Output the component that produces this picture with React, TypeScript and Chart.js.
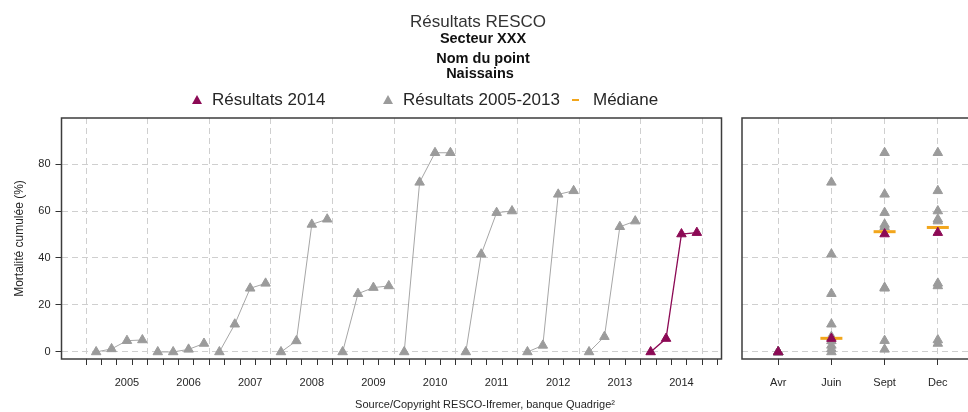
import React, { useEffect, useRef } from 'react';
import { Chart, registerables } from 'chart.js';

Chart.register(...registerables);

// ---------- data ----------
const years = ['2005', '2006', '2007', '2008', '2009', '2010', '2011', '2012', '2013', '2014'];
const campaigns = ['Avr', 'Juin', 'Sept', 'Dec'];
const mort2005 = [0, 1.3, 4.8, 5.1];
const mort2006 = [0, 0, 1.1, 3.6];
const mort2007 = [0, 11.8, 27.1, 29.2];
const mort2008 = [0, 4.7, 54.3, 56.5];
const mort2009 = [0, 24.8, 27.4, 28.1];
const mort2010 = [0, 72.2, 84.8, 84.8];
const mort2011 = [0, 41.6, 59.3, 60];
const mort2012 = [0, 2.8, 67.1, 68.6];
const mort2013 = [0, 6.5, 53.3, 55.7];
const mort2014 = [0, 5.7, 50.2, 50.8];
const medians: (number | null)[] = [null, 5.8, 51.2, 53];
const yTicks = [0, 20, 40, 60, 80];

const allYears = [mort2005, mort2006, mort2007, mort2008, mort2009, mort2010, mort2011, mort2012, mort2013, mort2014];
const histYears = allYears.slice(0, 9);

// ---------- style ----------
const FONT = '"Liberation Sans", Arial, sans-serif';
const GRAY = '#9b9b9b';
const LINE_GRAY = '#a6a6a6';
const MAGENTA = '#8c0a55';
const ORANGE = '#f2a61c';
const GRID = '#cfcfcf';
const AXIS = '#333333';
const TXT = '#262626';

const framePlugin = {
  id: 'frame',
  afterDraw(chart: any) {
    const { ctx, chartArea: a } = chart;
    ctx.save();
    ctx.strokeStyle = '#3c3c3c';
    ctx.lineWidth = 1.5;
    ctx.strokeRect(a.left, a.top, a.right - a.left, a.bottom - a.top);
    ctx.restore();
  },
};

const Y_MIN = -3;
const Y_MAX = 99.6;

function yScale(showLabels: boolean) {
  return {
    type: 'linear',
    min: Y_MIN,
    max: Y_MAX,
    afterBuildTicks: (s: any) => {
      s.ticks = yTicks.map((v) => ({ value: v }));
    },
    afterFit: (s: any) => {
      s.width = showLabels ? 61.5 : 0;
    },
    ticks: {
      display: showLabels,
      padding: 5,
      color: TXT,
      font: { family: FONT, size: 11 },
      callback: (v: any) => String(v),
    },
    grid: {
      color: GRID,
      lineWidth: 1,
      drawTicks: showLabels,
      tickLength: 6,
      tickColor: AXIS,
      tickWidth: 1,
    },
    border: { display: false, dash: [6, 4] },
    title: showLabels
      ? {
          display: true,
          text: 'Mortalité cumulée (%)',
          color: TXT,
          font: { family: FONT, size: 12 },
          padding: { top: 12, bottom: 0 },
        }
      : { display: false },
  };
}

const T = ({ x, y, size, bold, color, center, children }: any) => (
  <div
    style={{
      position: 'absolute',
      left: x,
      top: y - size * 0.6,
      fontSize: size,
      lineHeight: `${size * 1.2}px`,
      fontWeight: bold ? 700 : 400,
      color: color || TXT,
      whiteSpace: 'nowrap',
      fontFamily: FONT,
      transform: center ? 'translateX(-50%)' : undefined,
    }}
  >
    {children}
  </div>
);

const Tri = ({ cx, cy, color }: any) => (
  <div
    style={{
      position: 'absolute',
      left: cx - 5.5,
      top: cy - 4.5,
      width: 0,
      height: 0,
      borderLeft: '5.5px solid transparent',
      borderRight: '5.5px solid transparent',
      borderBottom: `9px solid ${color}`,
    }}
  />
);

export default function App() {
  const leftRef = useRef<HTMLCanvasElement>(null);
  const rightRef = useRef<HTMLCanvasElement>(null);

  useEffect(() => {
    const pointOpts = (color: string) => ({
      pointStyle: 'triangle',
      pointRadius: 5.5,
      pointBackgroundColor: color,
      pointBorderColor: color,
      pointBorderWidth: 1,
    });

    const left = new Chart(leftRef.current as HTMLCanvasElement, {
      type: 'line',
      data: {
        datasets: allYears.map((vals, i) => ({
          label: years[i],
          data: vals.map((v, j) => ({ x: 4 * i + j, y: v })),
          borderColor: i === 9 ? MAGENTA : LINE_GRAY,
          borderWidth: i === 9 ? 1.3 : 1,
          tension: 0,
          ...pointOpts(i === 9 ? MAGENTA : GRAY),
        })),
      },
      options: {
        responsive: false,
        animation: false,
        layout: { padding: { top: 118, right: 4.5, left: 0, bottom: 0 } },
        plugins: { legend: { display: false }, tooltip: { enabled: false }, title: { display: false } },
        scales: {
          x: {
            type: 'linear',
            position: 'bottom',
            min: -2.25,
            max: 40.6,
            afterBuildTicks: (s: any) => {
              s.ticks = Array.from({ length: 42 }, (_, k) => ({ value: -0.65 + k }));
            },
            afterFit: (s: any) => {
              s.height = 8;
            },
            ticks: { autoSkip: false, maxRotation: 0, padding: 0, callback: () => '' },
            grid: {
              color: (c: any) => (c.index % 4 === 0 ? GRID : 'rgba(0,0,0,0)'),
              lineWidth: 1,
              tickColor: AXIS,
              tickLength: 6,
              tickWidth: 1,
            },
            border: { display: false, dash: [6, 4] },
          },
          xl: {
            type: 'linear',
            position: 'bottom',
            min: -2.25,
            max: 40.6,
            afterBuildTicks: (s: any) => {
              s.ticks = years.map((_, i) => ({ value: 4 * i + 2 }));
            },
            afterFit: (s: any) => {
              s.height = 45;
            },
            ticks: {
              autoSkip: false,
              maxRotation: 0,
              padding: 9,
              color: TXT,
              font: { family: FONT, size: 11 },
              callback: (_v: any, i: number) => years[i],
            },
            grid: { display: false, drawTicks: false },
            border: { display: false },
          },
          y: yScale(true),
        },
      } as any,
      plugins: [framePlugin],
    });

    const right = new Chart(rightRef.current as HTMLCanvasElement, {
      type: 'line',
      data: {
        datasets: [
          {
            label: 'Résultats 2014',
            data: mort2014.map((v, j) => ({ x: j, y: v })),
            showLine: false,
            ...pointOpts(MAGENTA),
          },
          {
            label: 'Médiane',
            data: medians.map((v, j) => ({ x: j, y: v })),
            showLine: false,
            pointStyle: 'line',
            pointRadius: 11,
            pointBorderWidth: 3,
            pointBorderColor: ORANGE,
            pointBackgroundColor: ORANGE,
          },
          {
            label: 'Résultats 2005-2013',
            data: histYears.flatMap((vals) => vals.map((v, j) => ({ x: j, y: v }))),
            showLine: false,
            ...pointOpts(GRAY),
          },
        ],
      },
      options: {
        responsive: false,
        animation: false,
        layout: { padding: { top: 118, right: 11, left: 5, bottom: 0 } },
        plugins: { legend: { display: false }, tooltip: { enabled: false }, title: { display: false } },
        scales: {
          x: {
            type: 'linear',
            position: 'bottom',
            min: -0.68,
            max: 3.68,
            afterBuildTicks: (s: any) => {
              s.ticks = campaigns.map((_, j) => ({ value: j }));
            },
            afterFit: (s: any) => {
              s.height = 53;
            },
            ticks: {
              autoSkip: false,
              maxRotation: 0,
              padding: 11,
              color: TXT,
              font: { family: FONT, size: 11 },
              callback: (_v: any, i: number) => campaigns[i],
            },
            grid: { color: GRID, lineWidth: 1, tickColor: AXIS, tickLength: 6, tickWidth: 1 },
            border: { display: false, dash: [6, 4] },
          },
          y: yScale(false),
        },
      } as any,
      plugins: [framePlugin],
    });

    return () => {
      left.destroy();
      right.destroy();
    };
  }, []);

  return (
    <div
      style={{
        position: 'fixed',
        left: 0,
        top: 0,
        width: 968,
        height: 412,
        overflow: 'hidden',
        background: '#fff',
        fontFamily: FONT,
      }}
    >
      <canvas ref={leftRef} width={728} height={412} style={{ position: 'absolute', left: 0, top: 0 }} />
      <canvas ref={rightRef} width={260} height={412} style={{ position: 'absolute', left: 728, top: 0 }} />

      <T x={478} y={22} size={17} color="#333" center>Résultats RESCO</T>
      <T x={483} y={39} size={14.5} bold color="#111" center>Secteur XXX</T>
      <T x={483} y={59} size={14.5} bold color="#111" center>Nom du point</T>
      <T x={480} y={74} size={14.5} bold color="#111" center>Naissains</T>

      <Tri cx={197} cy={99} color={MAGENTA} />
      <T x={212} y={100} size={17}>Résultats 2014</T>
      <Tri cx={388} cy={99} color={GRAY} />
      <T x={403} y={100} size={17}>Résultats 2005-2013</T>
      <div style={{ position: 'absolute', left: 572, top: 99, width: 7, height: 2, background: ORANGE }} />
      <T x={593} y={100} size={17}>Médiane</T>

      <T x={485} y={405} size={11} center>Source/Copyright RESCO-Ifremer, banque Quadrige²</T>
    </div>
  );
}
